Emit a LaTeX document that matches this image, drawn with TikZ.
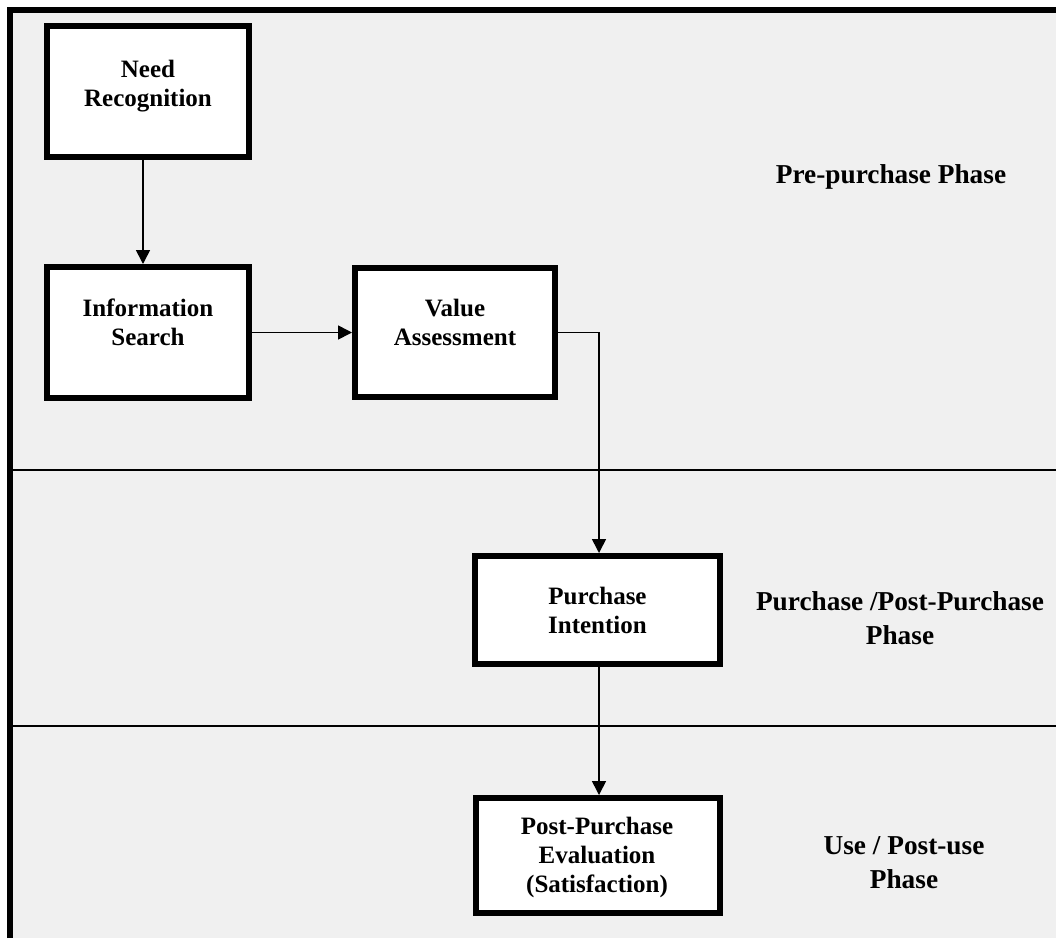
\documentclass[tikz,border=0pt]{standalone}
\usepackage{fontspec}
\setmainfont{Liberation Serif}
\usetikzlibrary{arrows.meta}
\definecolor{panel}{HTML}{F0F0F0}
\tikzset{
  stagebox/.style={draw=black, line width=6pt, fill=white, inner sep=0pt},
  stagetext/.style={anchor=north, align=center, inner sep=0pt,
    font=\bfseries\fontsize{25}{29}\selectfont},
  phasetext/.style={anchor=north, align=center, inner sep=0pt,
    font=\bfseries\fontsize{27.3}{34.5}\selectfont},
  divider/.style={draw=black, line width=2pt},
  flow/.style={draw=black, line width=1.6pt,
    -{Triangle[length=14pt,width=14pt]}},
}
\begin{document}
\begin{tikzpicture}[x=1pt,y=-1pt]
\useasboundingbox (0,0) rectangle (1056,938);
% panel and its frame
\fill[panel] (10,10) rectangle (1056,938);
\draw[line width=6pt] (10,938) -- (10,10) -- (1056,10);
% phase dividers
\draw[divider] (10,470) -- (1056,470);
\draw[divider] (10,726) -- (1056,726);

% stages
\node[stagebox, minimum width=202pt, minimum height=131pt] (need)  at (148,91.5)  {};
\node[stagebox, minimum width=202pt, minimum height=131pt] (info)  at (148,332.5) {};
\node[stagebox, minimum width=200pt, minimum height=129pt] (value) at (455,332.5) {};
\node[stagebox, minimum width=245pt, minimum height=108pt] (purch) at (597.5,610) {};
\node[stagebox, minimum width=244pt, minimum height=115pt] (post)  at (598,855.5) {};

\node[stagetext] (needtxt)  at (148,60)    {Need\\Recognition};
\node[stagetext] (infotxt)  at (148,299)   {Information\\Search};
\node[stagetext] (valuetxt) at (455,299)   {Value\\Assessment};
\node[stagetext] (purchtxt) at (597.5,587) {Purchase\\Intention};
\node[stagetext] (posttxt)  at (597,817)   {Post-Purchase\\Evaluation\\(Satisfaction)};

% phase labels
\node[phasetext] (prephase)   at (891,164) {Pre-purchase Phase};
\node[phasetext] (purchphase) at (900,591) {Purchase /Post-Purchase\\Phase};
\node[phasetext] (usephase)   at (904,836) {Use / Post-use\\Phase};

% flow between stages
\draw[flow] ([xshift=-5pt]need.south) -- ([xshift=-5pt]info.north);
\draw[flow] (info.east) -- (value.west);
\draw[flow] (value.east) -| ([xshift=1.5pt]purch.north);
\draw[flow] ([xshift=1.5pt]purch.south) -- ([xshift=1pt]post.north);
\end{tikzpicture}
\end{document}
